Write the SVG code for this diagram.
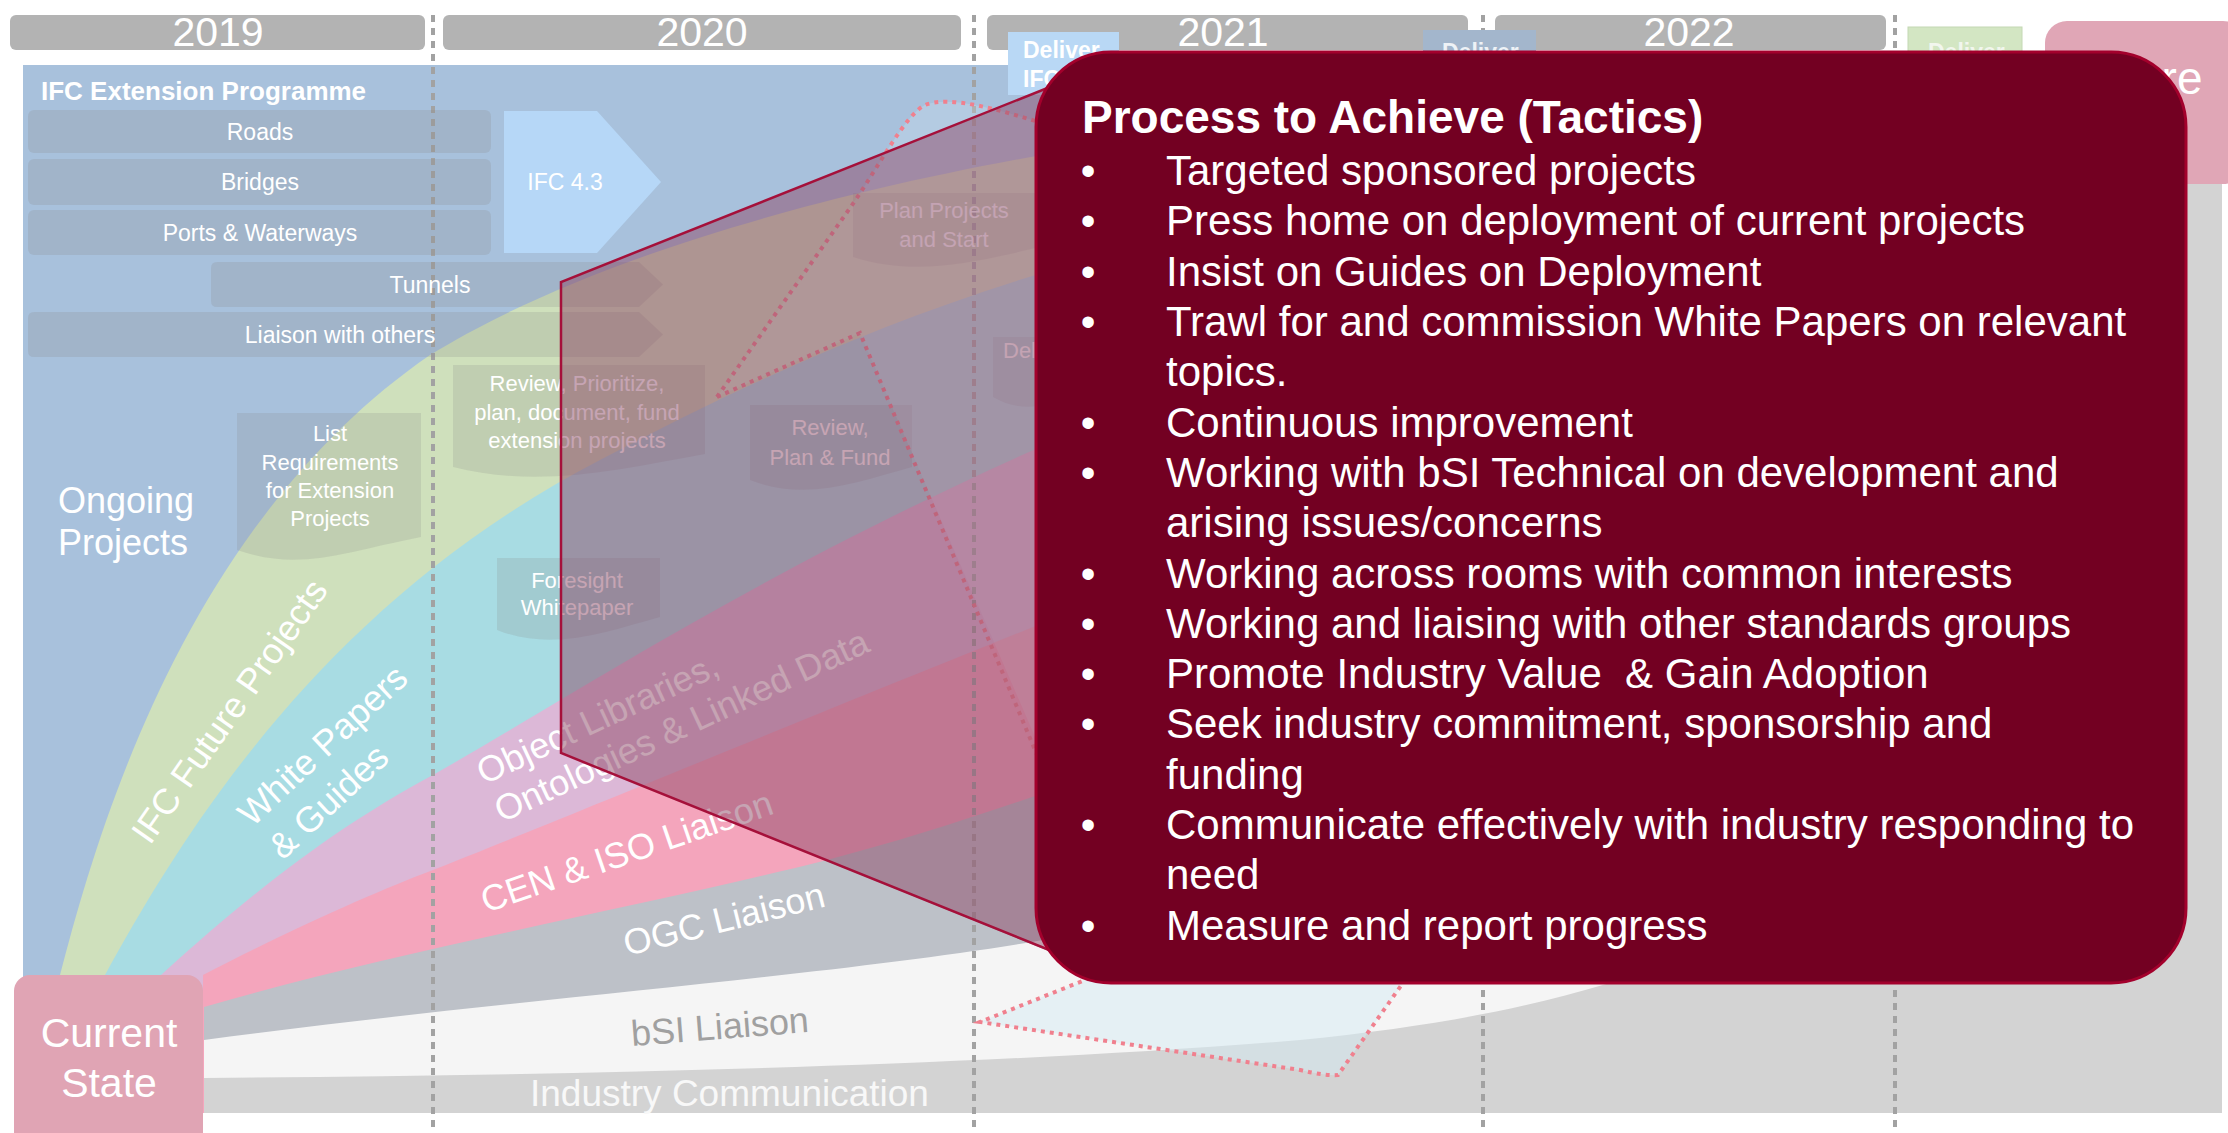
<svg xmlns="http://www.w3.org/2000/svg" width="2228" height="1133" viewBox="0 0 2228 1133">
<style>
text{font-family:"Liberation Sans",Arial,sans-serif;}
.yr{fill:#b3b3b3;}
.yt{fill:#ffffff;font-size:41px;text-anchor:middle;}
.pbox{fill:#888888;fill-opacity:0.22;}
.pt{fill:#ffffff;font-size:23px;text-anchor:middle;}
.doc{fill:#888888;fill-opacity:0.2;}
.dt{fill:#ffffff;font-size:22px;text-anchor:middle;}
.band{fill:#ffffff;font-size:36px;}
.tt{fill:#ffffff;font-size:42px;}
.bl{fill:#ffffff;font-size:42px;text-anchor:middle;}
.dash{stroke:#a2a2a2;stroke-width:4;stroke-dasharray:7 6;fill:none;}
.dot{stroke:#f0808e;stroke-width:4;stroke-dasharray:4 5;fill:none;}
</style>

<g id="background">
<rect x="0" y="0" width="2228" height="1133" fill="#ffffff"/>
<rect x="23" y="65" width="1180" height="1048" fill="#a8c1dc"/>
</g>

<g id="bands">
<path id="band-ifc-future" d="M60,975 C100,820 190,520 430,355 C560,275 800,185 1200,130 L1200,1113 L60,1113 Z" fill="#cfe0bc"/>
<path id="band-white-papers" d="M105,975 C190,820 330,600 600,460 C780,365 950,290 1200,230 L1200,1113 L105,1113 Z" fill="#a8dce3"/>
<path id="band-object-libraries" d="M161,975 C260,885 340,825 433,775 C600,680 820,530 1200,380 L1200,1113 L161,1113 Z" fill="#dcb8d7"/>
<path id="band-cen-iso" d="M203,975 C300,925 380,890 433,870 C560,820 800,720 1200,560 L1200,1113 L203,1113 Z" fill="#f4a5bc"/>
<path id="band-ogc" d="M204,1007 C400,950 650,905 827,860 C950,828 1050,790 1200,740 L1200,1113 L204,1113 Z" fill="#bdc1c8"/>
<path id="band-bsi" d="M204,1040 C500,1000 850,975 1060,937 C1300,895 1500,800 1700,600 C1850,450 1950,250 2050,60 L2222,60 L2222,1113 L204,1113 Z" fill="#f5f5f5"/>
<path id="band-industry" d="M204,1078 C600,1075 1000,1065 1300,1040 C1480,1022 1580,995 1680,960 C1900,880 2100,500 2180,100 L2222,100 L2222,1113 L204,1113 Z" fill="#d3d3d3"/>
</g>

<g id="timeline">
<line class="dash" x1="433" y1="15" x2="433" y2="1133"/>
<line class="dash" x1="974" y1="15" x2="974" y2="1133"/>
<line class="dash" x1="1483" y1="15" x2="1483" y2="1133"/>
<line class="dash" x1="1895" y1="15" x2="1895" y2="1133"/>
<g id="year-2019"><rect class="yr" x="10" y="15" width="415" height="35" rx="6"/><text class="yt" x="218" y="46">2019</text></g>
<g id="year-2020"><rect class="yr" x="443" y="15" width="518" height="35" rx="6"/><text class="yt" x="702" y="46">2020</text></g>
<g id="year-2021"><rect class="yr" x="987" y="15" width="481" height="35" rx="6"/><text class="yt" x="1223" y="46">2021</text></g>
<g id="year-2022"><rect class="yr" x="1495" y="15" width="391" height="35" rx="6"/><text class="yt" x="1689" y="46">2022</text></g>
</g>

<g id="band-labels">
<text class="band" x="58" y="513">Ongoing</text>
<text class="band" x="58" y="555">Projects</text>
<text class="band" transform="translate(150,846) rotate(-55)">IFC Future Projects</text>
<g transform="translate(252,828) rotate(-43)">
<text class="band" x="0" y="0">White Papers</text>
<text class="band" x="0" y="45">&amp; Guides</text>
</g>
<g transform="translate(484,785) rotate(-25)">
<text class="band" x="0" y="0">Object Libraries,</text>
<text class="band" x="0" y="42">Ontologies &amp; Linked Data</text>
</g>
<text class="band" transform="translate(486,913) rotate(-19)">CEN &amp; ISO Liaison</text>
<text class="band" transform="translate(627,956) rotate(-14)">OGC Liaison</text>
<text class="band" style="fill:#a0a0a0" transform="translate(632,1046) rotate(-4.5)">bSI Liaison</text>
<text x="530" y="1106" style="fill:#f8f8f8;font-size:37px">Industry Communication</text>
</g>

<g id="ifc-extension-programme">
<text x="41" y="100" style="fill:#ffffff;font-size:26px;font-weight:bold">IFC Extension Programme</text>
<g id="roads"><rect class="pbox" x="28" y="110" width="463" height="43" rx="6"/><text class="pt" x="260" y="140">Roads</text></g>
<g id="bridges"><rect class="pbox" x="28" y="159" width="463" height="46" rx="6"/><text class="pt" x="260" y="190">Bridges</text></g>
<g id="ports"><rect class="pbox" x="28" y="210" width="463" height="45" rx="6"/><text class="pt" x="260" y="241">Ports &amp; Waterways</text></g>
<g id="tunnels"><path class="pbox" d="M217,262 H639 L663,284.5 L639,307 H217 Q211,307 211,301 V268 Q211,262 217,262 Z"/><text class="pt" x="430" y="293">Tunnels</text></g>
<g id="liaison-others"><path class="pbox" d="M34,312 H639 L663,334.5 L639,357 H34 Q28,357 28,351 V318 Q28,312 34,312 Z"/><text class="pt" x="340" y="343">Liaison with others</text></g>
<g id="ifc43"><path d="M504,111 H597 L661,182 L597,253 H504 Z" fill="#b6d7f7"/><text class="pt" x="565" y="190">IFC 4.3</text></g>
</g>

<g id="activities">
<g id="list-requirements"><path class="doc" d="M237,413 H421 V537 C344,552 300,572 237,550 Z"/>
<text class="dt" x="330" y="441">List</text><text class="dt" x="330" y="470">Requirements</text><text class="dt" x="330" y="498">for Extension</text><text class="dt" x="330" y="526">Projects</text></g>
<g id="review-prioritize"><path class="doc" d="M453,365 H705 V454 C622,469 539,489 453,467 Z"/>
<text class="dt" x="577" y="391">Review, Prioritize,</text><text class="dt" x="577" y="420">plan, document, fund</text><text class="dt" x="577" y="448">extension projects</text></g>
<g id="foresight"><path class="doc" d="M497,558 H660 V617 C606,632 552,652 497,630 Z"/>
<text class="dt" x="577" y="588">Foresight</text><text class="dt" x="577" y="615">Whitepaper</text></g>
<g id="review-plan-fund"><path class="doc" d="M750,405 H912 V467 C858,482 805,502 750,480 Z"/>
<text class="dt" x="830" y="435">Review,</text><text class="dt" x="830" y="465">Plan &amp; Fund</text></g>
<g id="plan-projects"><path class="doc" d="M853,193 H1053 V244 C987,259 921,279 853,257 Z"/>
<text class="dt" x="944" y="218">Plan Projects</text><text class="dt" x="944" y="247">and Start</text></g>
<g id="deliver-mid"><path class="doc" d="M993,337 H1103 V384 C1066,399 1030,419 993,397 Z"/>
<text class="dt" x="1003" y="358" style="text-anchor:start">Deliver</text></g>
<g id="deliver-ifc"><rect x="1008" y="32" width="111" height="63" fill="#b9d8f5"/>
<text x="1023" y="58" style="fill:#ffffff;font-size:23px;font-weight:bold">Deliver</text><text x="1023" y="87" style="fill:#ffffff;font-size:23px;font-weight:bold">IFC</text></g>
<g id="deliver-2"><rect x="1423" y="30" width="113" height="40" fill="#a3b6cc"/>
<text x="1442" y="60" style="fill:#eef2f6;font-size:23px;font-weight:bold">Deliver</text></g>
<g id="deliver-3"><rect x="1908" y="27" width="114" height="40" fill="#d3e6c3" stroke="#c4d8b4" stroke-width="1"/>
<text x="1928" y="60" style="fill:#f2f6ee;font-size:23px;font-weight:bold">Deliver</text></g>
</g>

<g id="current-state"><rect x="14" y="975" width="189" height="175" rx="16" fill="#e0a4b4"/>
<text x="109" y="1047" style="fill:#ffffff;font-size:41px;text-anchor:middle">Current</text>
<text x="109" y="1097" style="fill:#ffffff;font-size:41px;text-anchor:middle">State</text></g>
<g id="future-state"><rect x="2045" y="21" width="200" height="163" rx="22" fill="#e0a6b6"/>
<text x="2136" y="94" style="fill:#ffffff;font-size:46px;text-anchor:middle">Future</text></g>

<g id="connectors">
<path d="M717,397 L850,208 C880,165 905,115 925,105 C950,95 1000,110 1045,124 L1045,760 L860,333 Z" fill="#e6f4fb" fill-opacity="0.2" stroke="none"/>
<path class="dot" d="M717,397 L850,208 C880,165 905,115 925,105 C950,95 1000,110 1045,124"/>
<path class="dot" d="M717,397 L860,333 L1040,762"/>
<path d="M1090,978 L980,1022 L1300,1070 Q1325,1076 1338,1075 L1405,980 Z" fill="#d6ecf4" fill-opacity="0.5" stroke="none"/>
<path class="dot" d="M1090,978 L980,1022 L1300,1070 Q1325,1076 1338,1075 L1405,980"/>
</g>

<g id="callout">
<polygon points="561,282 1120,60 1120,980 561,753" fill="#8e4a68" fill-opacity="0.5"/>
<path d="M1060,83 L561,282 L561,753 L1064,956" fill="none" stroke="#a5103a" stroke-width="2.5"/>
</g>

<g id="tactics">
<rect x="1036" y="52" width="1150" height="931" rx="75" fill="#730022" stroke="#a3002c" stroke-width="3"/>
<text x="1082" y="133" style="fill:#ffffff;font-size:46px;font-weight:bold">Process to Achieve (Tactics)</text>
<text class="bl" x="1088" y="185">•</text><text class="tt" x="1166" y="185">Targeted sponsored projects</text>
<text class="bl" x="1088" y="235">•</text><text class="tt" x="1166" y="235">Press home on deployment of current projects</text>
<text class="bl" x="1088" y="286">•</text><text class="tt" x="1166" y="286">Insist on Guides on Deployment</text>
<text class="bl" x="1088" y="336">•</text><text class="tt" x="1166" y="336">Trawl for and commission White Papers on relevant</text>
<text class="tt" x="1166" y="386">topics.</text>
<text class="bl" x="1088" y="437">•</text><text class="tt" x="1166" y="437">Continuous improvement</text>
<text class="bl" x="1088" y="487">•</text><text class="tt" x="1166" y="487">Working with bSI Technical on development and</text>
<text class="tt" x="1166" y="537">arising issues/concerns</text>
<text class="bl" x="1088" y="588">•</text><text class="tt" x="1166" y="588">Working across rooms with common interests</text>
<text class="bl" x="1088" y="638">•</text><text class="tt" x="1166" y="638">Working and liaising with other standards groups</text>
<text class="bl" x="1088" y="688">•</text><text class="tt" x="1166" y="688">Promote Industry Value &#160;&amp; Gain Adoption</text>
<text class="bl" x="1088" y="738">•</text><text class="tt" x="1166" y="738">Seek industry commitment, sponsorship and</text>
<text class="tt" x="1166" y="789">funding</text>
<text class="bl" x="1088" y="839">•</text><text class="tt" x="1166" y="839">Communicate effectively with industry responding to</text>
<text class="tt" x="1166" y="889">need</text>
<text class="bl" x="1088" y="940">•</text><text class="tt" x="1166" y="940">Measure and report progress</text>
</g>
</svg>
